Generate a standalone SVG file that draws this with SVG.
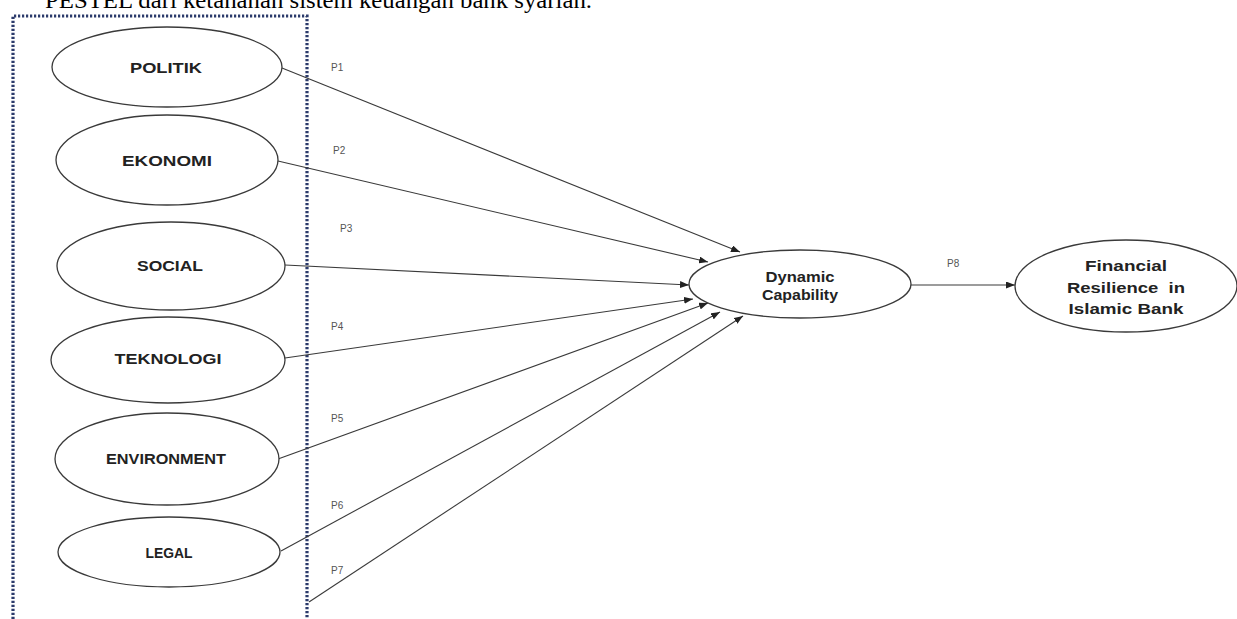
<svg xmlns="http://www.w3.org/2000/svg" width="1237" height="619" viewBox="0 0 1237 619">
<style>
.node ellipse{fill:#fff;stroke:#3a3a3a;stroke-width:1.3}
.lbl{font-family:"Liberation Sans",Arial,sans-serif;font-weight:bold;font-size:15px;fill:#222;text-anchor:middle;dominant-baseline:central}
.p{font-family:"Liberation Sans",Arial,sans-serif;font-size:10px;fill:#555}
.conn line{stroke:#3a3a3a;stroke-width:1.1;marker-end:url(#ah)}
.title{font-family:"Liberation Serif","Times New Roman",serif;font-size:24px;fill:#000}
</style>
<defs>
<marker id="ah" markerUnits="userSpaceOnUse" markerWidth="9" markerHeight="7" refX="9" refY="3.5" orient="auto">
<path d="M0,0 L9,3.5 L0,7 z" fill="#222"/>
</marker>
</defs>
<rect width="1237" height="619" fill="#fff"/>
<text class="title" x="45" y="8" textLength="547" lengthAdjust="spacingAndGlyphs">PESTEL dari ketahanan sistem keuangan bank syariah.</text>
<path d="M13,619 V16 H307 V619" fill="none" stroke="#2b3a6b" stroke-width="3.2" stroke-dasharray="2.2 1.8"/>

<g class="conn">
<line x1="282" y1="68" x2="740" y2="252"/>
<line x1="278" y1="161" x2="708" y2="262"/>
<line x1="285" y1="265" x2="689" y2="285"/>
<line x1="285" y1="358" x2="693" y2="299"/>
<line x1="278" y1="459" x2="708" y2="303"/>
<line x1="281" y1="551" x2="720" y2="312"/>
<line x1="309" y1="602" x2="743" y2="316"/>
<line x1="910" y1="285" x2="1015" y2="285"/>
<text class="p" x="331" y="71">P1</text>
<text class="p" x="333" y="154">P2</text>
<text class="p" x="340" y="232">P3</text>
<text class="p" x="331" y="330">P4</text>
<text class="p" x="331" y="422">P5</text>
<text class="p" x="331" y="509">P6</text>
<text class="p" x="331" y="574">P7</text>
<text class="p" x="947" y="267">P8</text>
</g>

<g id="politik" class="node"><ellipse cx="167" cy="67" rx="115" ry="40"/><text class="lbl" x="166" y="67" textLength="72" lengthAdjust="spacingAndGlyphs">POLITIK</text></g>
<g id="ekonomi" class="node"><ellipse cx="167" cy="160" rx="111" ry="45"/><text class="lbl" x="167" y="160" textLength="90" lengthAdjust="spacingAndGlyphs">EKONOMI</text></g>
<g id="social" class="node"><ellipse cx="171" cy="266" rx="114" ry="44"/><text class="lbl" x="170" y="265" textLength="66" lengthAdjust="spacingAndGlyphs">SOCIAL</text></g>
<g id="teknologi" class="node"><ellipse cx="168" cy="360" rx="117" ry="43"/><text class="lbl" x="168" y="358" textLength="107" lengthAdjust="spacingAndGlyphs">TEKNOLOGI</text></g>
<g id="environment" class="node"><ellipse cx="167" cy="459" rx="112" ry="46"/><text class="lbl" x="166" y="458" textLength="120" lengthAdjust="spacingAndGlyphs">ENVIRONMENT</text></g>
<g id="legal" class="node"><ellipse cx="169" cy="552" rx="111" ry="35"/><text class="lbl" x="169" y="552" textLength="47" lengthAdjust="spacingAndGlyphs">LEGAL</text></g>
<g id="dynamic" class="node"><ellipse cx="800" cy="284" rx="111" ry="34"/><text class="lbl" x="800" y="276" textLength="69" lengthAdjust="spacingAndGlyphs">Dynamic</text><text class="lbl" x="800" y="294" textLength="76" lengthAdjust="spacingAndGlyphs">Capability</text></g>
<g id="financial" class="node"><ellipse cx="1126" cy="286" rx="111" ry="46"/><text class="lbl" x="1126" y="265" textLength="82" lengthAdjust="spacingAndGlyphs">Financial</text><text class="lbl" x="1126" y="287" textLength="118" lengthAdjust="spacingAndGlyphs" xml:space="preserve">Resilience  in</text><text class="lbl" x="1126" y="308" textLength="115" lengthAdjust="spacingAndGlyphs">Islamic Bank</text></g>
</svg>
